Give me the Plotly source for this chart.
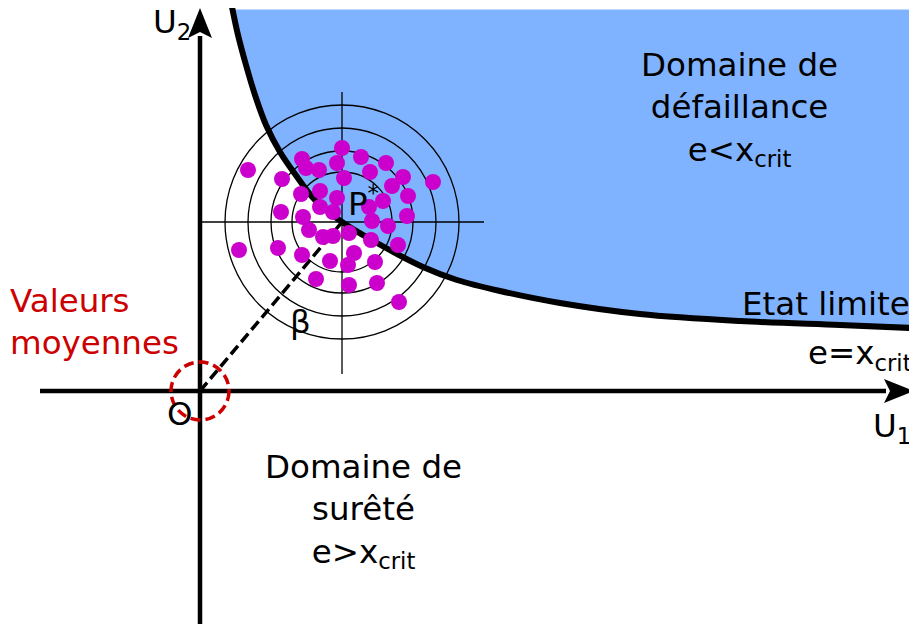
"""Limit-state diagram in standard normal space (FORM design point)."""

import plotly.graph_objects as go

# Canvas in pixel units, y axis pointing down.
# The page body has an 8px margin, so the figure is 8px smaller and the ranges start at 8.
W, H = 917, 624
PAGE_MARGIN = 8

# Limit-state curve e = x_crit
CURVE_X = [232, 238, 246, 255, 266, 280, 295, 315, 342, 377, 423, 457, 500, 560, 640, 740, 840, 912]
CURVE_Y = [7, 35, 65, 95, 125, 152, 174, 200, 222, 243, 267, 280, 291, 303, 314, 321, 325, 328]
FAIL_TOP = 9.5

# Design point P* and the iso-probability circles around it
P_STAR = (342, 222)
RADII = [50, 71, 94, 117]
CROSS_X = [200, 484]
CROSS_Y = [92, 374]

# Origin of the U1/U2 axes
ORIGIN = (200, 391)
U1_START, U1_TIP = 40, 914
U2_START, U2_TIP = 624, 8
MEAN_RADIUS = 29

# Monte-Carlo samples around P*
DOTS_X = [248, 282, 302, 306, 319, 342, 361, 337, 370, 386, 403, 392, 433, 344, 320, 301, 337,
          383, 408, 281, 320, 333, 369, 372, 407, 303, 309, 323, 333, 349, 388, 371, 398, 239,
          278, 302, 330, 348, 354, 375, 316, 349, 377, 399]
DOTS_Y = [170, 179, 159, 168, 170, 148, 157, 163, 172, 163, 177, 186, 182, 178, 191, 194, 198,
          201, 196, 212, 207, 212, 207, 221, 216, 217, 230, 237, 236, 233, 226, 240, 245, 250,
          248, 255, 261, 265, 253, 262, 279, 285, 283, 302]

BLUE = "#80b3ff"
MAGENTA = "#cc00cc"
RED = "#cc0000"
FONT = "DejaVu Sans"

shapes = []

# failure domain: polygon bounded by the curve, the right edge and the top
path = f"M {CURVE_X[0]},{FAIL_TOP} " + " ".join(f"L {x},{y}" for x, y in zip(CURVE_X, CURVE_Y))
path += f" L {CURVE_X[-1]},{FAIL_TOP} Z"
shapes.append(dict(type="path", path=path, fillcolor=BLUE, line=dict(width=0), layer="below"))

cx, cy = P_STAR
for r in RADII:
    shapes.append(dict(type="circle", x0=cx - r, x1=cx + r, y0=cy - r, y1=cy + r,
                       line=dict(color="black", width=1.3), layer="below"))
shapes.append(dict(type="line", x0=CROSS_X[0], x1=CROSS_X[1], y0=cy, y1=cy,
                   line=dict(color="black", width=1.3), layer="below"))
shapes.append(dict(type="line", x0=cx, x1=cx, y0=CROSS_Y[0], y1=CROSS_Y[1],
                   line=dict(color="black", width=1.3), layer="below"))

# axes with arrowheads
ox, oy = ORIGIN
head_len, head_half = 30, 12
shapes.append(dict(type="line", x0=U1_START, x1=U1_TIP - head_len + 2, y0=oy, y1=oy,
                   line=dict(color="black", width=4.5), layer="below"))
shapes.append(dict(type="line", x0=ox, x1=ox, y0=U2_START, y1=U2_TIP + head_len - 2,
                   line=dict(color="black", width=4.5), layer="below"))
shapes.append(dict(type="path", layer="below", fillcolor="black", line=dict(width=0),
                   path=f"M {U1_TIP},{oy} L {U1_TIP - head_len},{oy - head_half} "
                        f"L {U1_TIP - head_len + 6},{oy} L {U1_TIP - head_len},{oy + head_half} Z"))
shapes.append(dict(type="path", layer="below", fillcolor="black", line=dict(width=0),
                   path=f"M {ox},{U2_TIP} L {ox - head_half},{U2_TIP + head_len} "
                        f"L {ox},{U2_TIP + head_len - 6} L {ox + head_half},{U2_TIP + head_len} Z"))

# mean values marker
shapes.append(dict(type="circle", x0=ox - MEAN_RADIUS, x1=ox + MEAN_RADIUS,
                   y0=oy - MEAN_RADIUS, y1=oy + MEAN_RADIUS,
                   line=dict(color=RED, width=3.5, dash="10px,5px"), layer="below"))

fig = go.Figure()

fig.add_trace(go.Scatter(x=CURVE_X, y=CURVE_Y, mode="lines", line=dict(color="black", width=6, shape="spline"),
                         hoverinfo="skip"))
fig.add_trace(go.Scatter(x=[ox, cx], y=[oy, cy], mode="lines",
                         line=dict(color="black", width=3.5, dash="11px,5px"), hoverinfo="skip"))
fig.add_trace(go.Scatter(x=DOTS_X, y=DOTS_Y, mode="markers",
                         marker=dict(color=MAGENTA, size=16, line=dict(width=0))))


def label(text, x, y, xanchor="center", color="black", size=32.5):
    fig.add_annotation(x=x, y=y, text=text, showarrow=False, xanchor=xanchor, yanchor="middle",
                       font=dict(family=FONT, size=size, color=color), align=xanchor if xanchor != "center" else "center")


label("Domaine de<br>défaillance<br>e&lt;x<sub>crit</sub>", 739, 109)
label("Domaine de<br>surêté<br>e&gt;x<sub>crit</sub>", 363, 511)
label("Etat limite", 912, 304, xanchor="right")
label("e=x<sub>crit</sub>", 914, 355, xanchor="right")
label("Valeurs<br>moyennes", 8, 322, xanchor="left", color=RED)
label("U<sub>2</sub>", 172, 24)
label("U<sub>1</sub>", 892, 428)
label("O", 180, 414)
label("β", 300, 322)
label("P<sup>*</sup>", 363, 201)

fig.update_layout(
    width=W - PAGE_MARGIN, height=H - PAGE_MARGIN,
    margin=dict(l=0, r=0, t=0, b=0),
    paper_bgcolor="white", plot_bgcolor="white",
    showlegend=False,
    shapes=shapes,
    xaxis=dict(range=[PAGE_MARGIN, W], visible=False, fixedrange=True),
    yaxis=dict(range=[H, PAGE_MARGIN], visible=False, fixedrange=True),
)

fig.write_html("out.html")
